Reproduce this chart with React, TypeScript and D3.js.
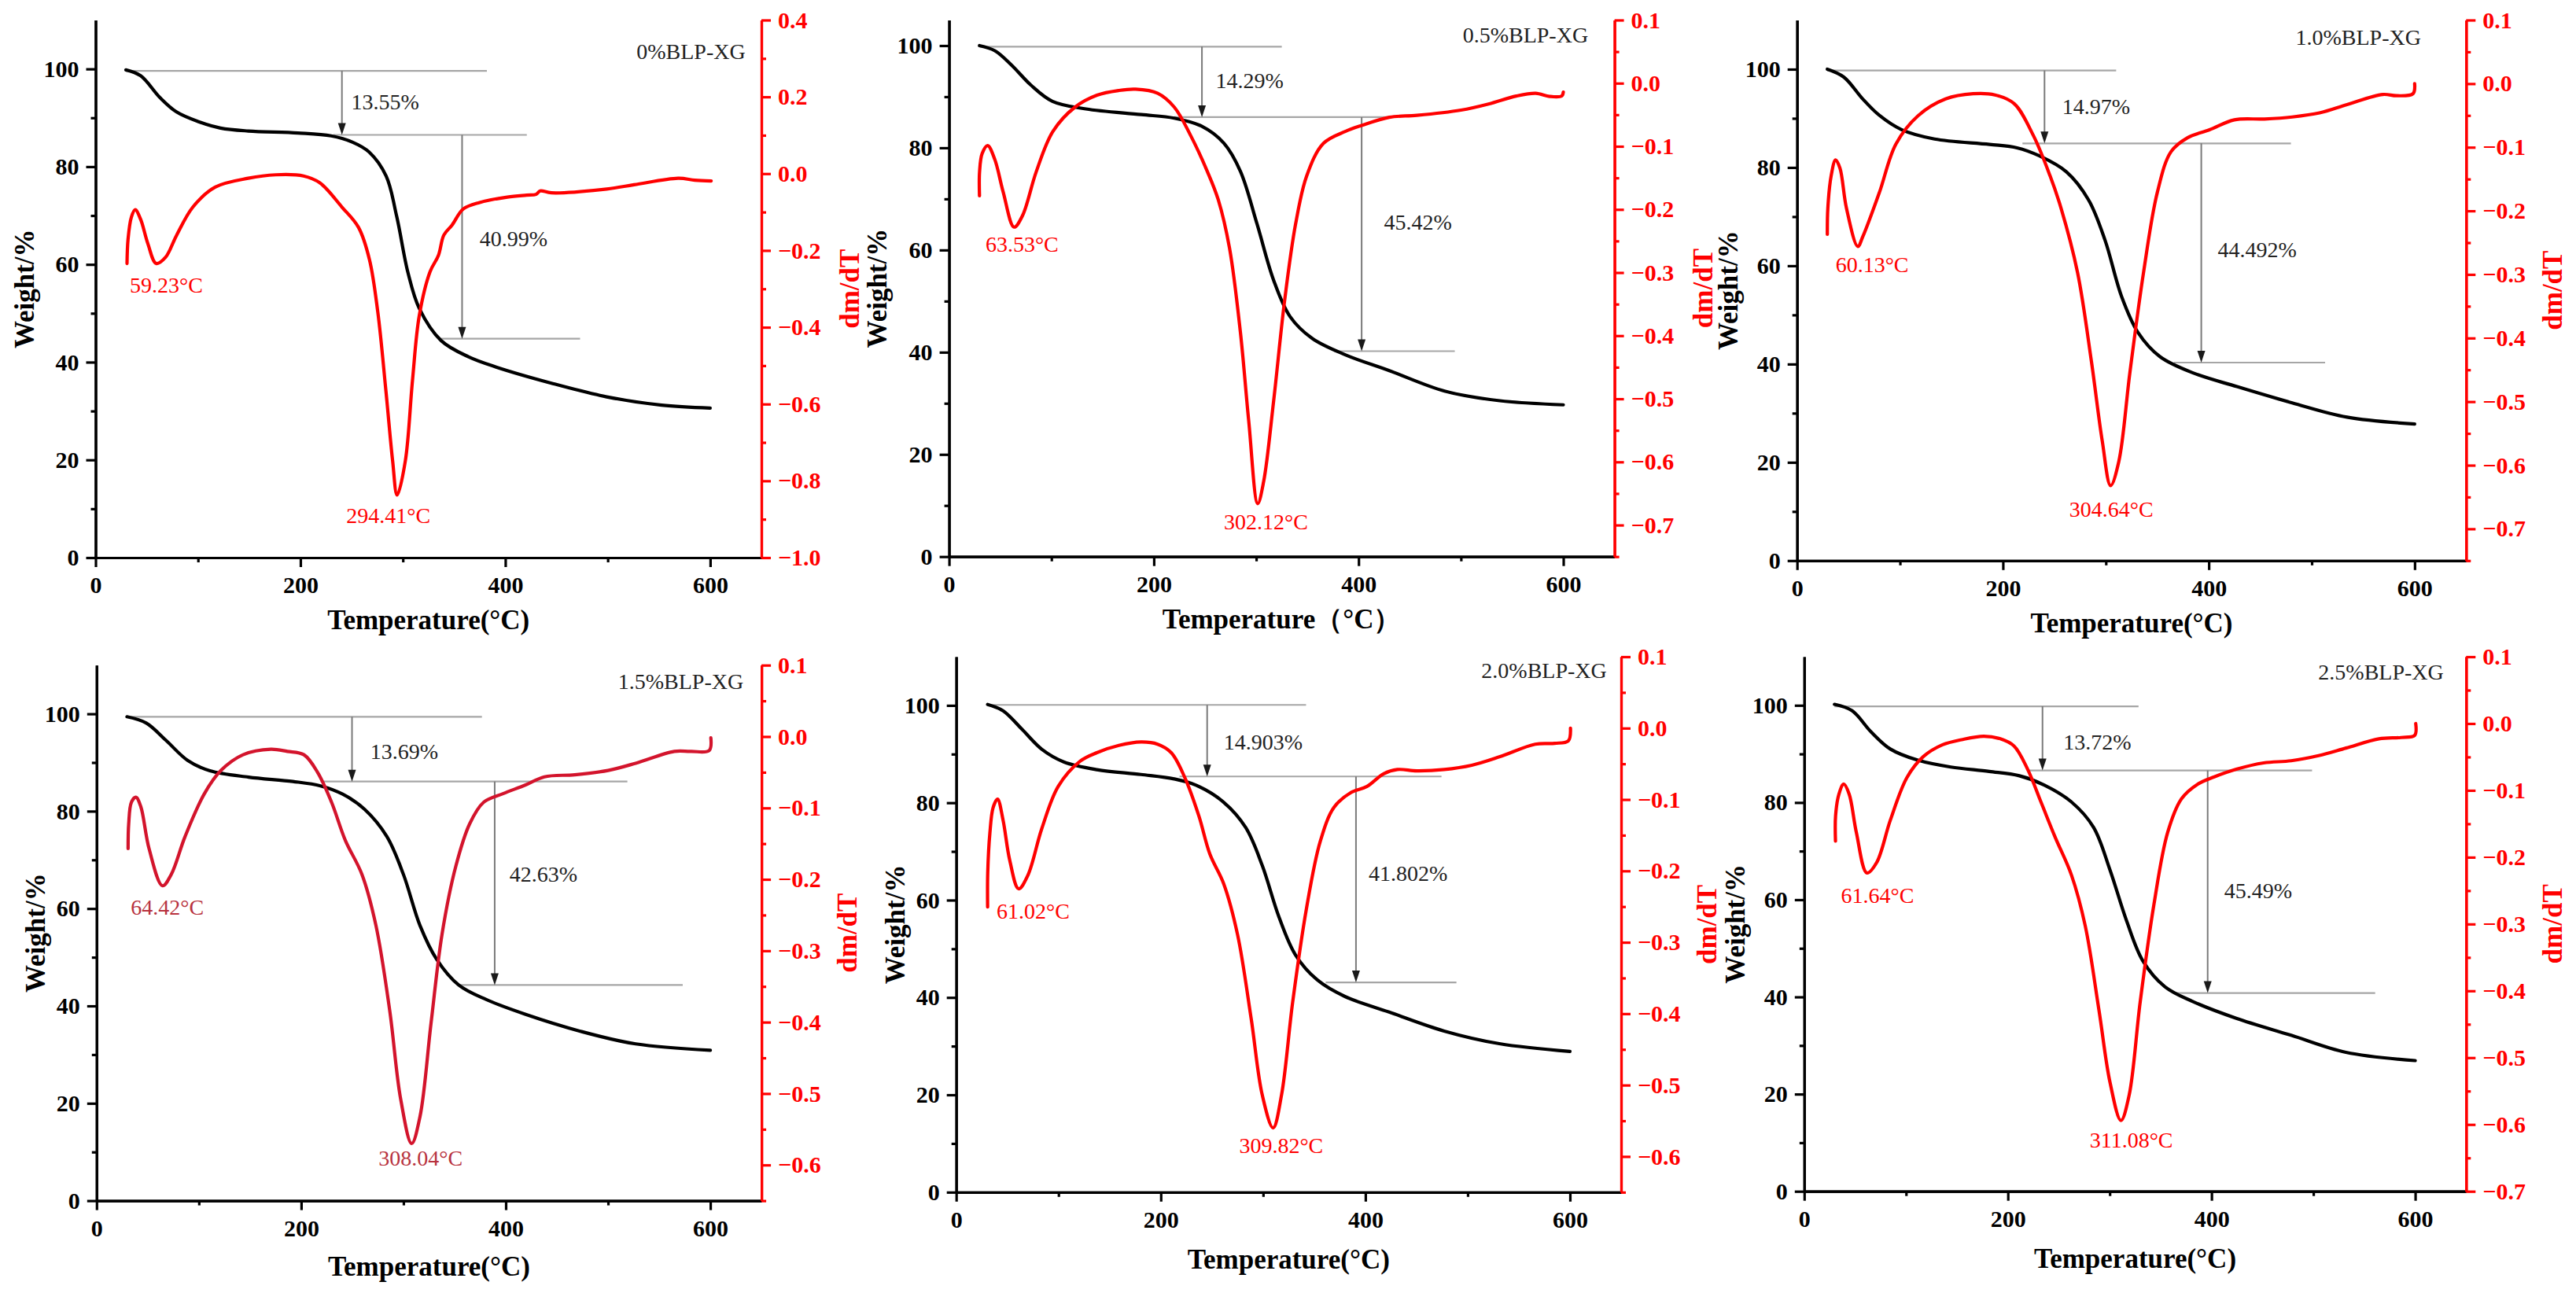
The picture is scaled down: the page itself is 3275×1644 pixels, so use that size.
import React, { useEffect, useRef } from 'react';
import * as d3 from 'd3';

type Pt = [number, number];

// ---------- DATA (temperature °C, value) ----------
const tga0: Pt[] = [[29.6,99.8],[44,98.6],[63,94.1],[79,91.2],[100.6,89.2],[122,87.9],[149,87.3],[197.5,86.9],[230,86.3],[251,85.0],[267,83.0],[283.6,78.1],[294,69.8],[305,58.3],[316,51],[337.4,44.4],[364,41.1],[391,39],[445,35.7],[499,32.9],[552.6,31.2],[600,30.6]];
const dtg0: Pt[] = [[30.7,-0.234],[31.7,-0.171],[35,-0.113],[38.7,-0.094],[44,-0.119],[51,-0.182],[59.2,-0.234],[68.3,-0.218],[79,-0.161],[95,-0.087],[116.8,-0.035],[149,-0.012],[176,-0.003],[203,-0.006],[219,-0.024],[240.5,-0.087],[256.7,-0.140],[267.4,-0.224],[275.5,-0.36],[283.6,-0.57],[290,-0.748],[294.4,-0.837],[302.4,-0.748],[309.4,-0.538],[316,-0.37],[326.6,-0.255],[334.7,-0.213],[340,-0.16],[348,-0.134],[359,-0.092],[375,-0.075],[402,-0.061],[420.8,-0.056],[430,-0.054],[434,-0.045],[445,-0.05],[499,-0.04],[525.7,-0.029],[568.8,-0.012],[585,-0.017],[601,-0.019]];

const tga1: Pt[] = [[29.7,100],[44.7,99],[61,96.2],[79.8,92.3],[101,89.1],[133.7,87.6],[187.6,86.5],[220,85.8],[247,84.2],[268.5,80.9],[284.6,75.4],[300.8,65.1],[317,54.1],[333,47],[354.7,42.7],[387,39.5],[430,36.4],[484,32.4],[538,30.5],[600,29.7]];
const dtg1: Pt[] = [[29.7,-0.1785],[29.8,-0.140],[32.3,-0.1116],[37.7,-0.0988],[44.7,-0.121],[52.8,-0.172],[63.5,-0.228],[71.7,-0.210],[85.2,-0.140],[101.4,-0.0765],[123,-0.038],[144.5,-0.019],[166,-0.0115],[182.2,-0.0096],[203.8,-0.016],[220,-0.038],[236,-0.083],[252.3,-0.140],[263,-0.185],[273.9,-0.261],[284.6,-0.395],[292.7,-0.535],[301.5,-0.666],[307.3,-0.631],[317,-0.504],[327.8,-0.344],[338.5,-0.223],[349.3,-0.147],[365.5,-0.0956],[387,-0.0765],[403,-0.067],[430,-0.054],[457,-0.051],[500,-0.0427],[527,-0.033],[554,-0.0204],[573,-0.016],[586.5,-0.021],[598.4,-0.0204],[600,-0.014]];

const tga2: Pt[] = [[29.4,100],[45.4,98.4],[64,93.9],[80,90.6],[101.5,87.7],[133.6,85.8],[187,84.7],[213.7,84],[235,82.4],[261.8,79.1],[283.2,73.4],[299.2,65.2],[315.2,53.8],[331.3,46.4],[352.6,41.5],[384.7,38.2],[427.4,35.4],[481,32.1],[534.3,29.2],[600,27.8]];
const dtg2: Pt[] = [[29.4,-0.237],[29.9,-0.196],[33.1,-0.145],[37.4,-0.12],[41.7,-0.133],[48,-0.196],[59,-0.256],[64,-0.24],[80,-0.171],[96,-0.095],[117.5,-0.0505],[144.3,-0.024],[171,-0.0158],[192.3,-0.0177],[211,-0.0316],[229.7,-0.082],[245.8,-0.145],[256.5,-0.196],[272.5,-0.297],[285.9,-0.436],[296.5,-0.562],[304.6,-0.632],[312.6,-0.594],[323.3,-0.455],[336.6,-0.297],[350,-0.171],[363.3,-0.107],[379.4,-0.085],[400.7,-0.0726],[424.8,-0.0569],[454,-0.0556],[481,-0.0524],[507.6,-0.046],[534.3,-0.0329],[569,-0.017],[582.4,-0.019],[598.4,-0.0158],[600,0.0]];

const tga3: Pt[] = [[29.7,99.4],[48.6,98.1],[67.6,94.6],[89.2,90.4],[110.8,88.3],[148.6,87],[191.9,86.1],[218.9,85.2],[240.5,83.5],[262,80.4],[283.8,74.8],[300,67],[316.2,56.5],[332.4,49.6],[354,44.3],[381,41.3],[418.9,38.3],[472.9,34.8],[527,32.2],[600,30.9]];
const dtg3: Pt[] = [[30.8,-0.157],[31.4,-0.122],[34,-0.092],[38.4,-0.085],[43.2,-0.098],[51.3,-0.157],[64.4,-0.209],[73,-0.193],[86.5,-0.140],[105.4,-0.080],[121.6,-0.0475],[143.2,-0.0255],[170.3,-0.0178],[186.5,-0.0208],[202.7,-0.0255],[216.2,-0.0505],[229.7,-0.092],[243.2,-0.1455],[259.4,-0.193],[273,-0.264],[286.5,-0.383],[297.3,-0.508],[308,-0.57],[316.2,-0.532],[327,-0.401],[337.8,-0.276],[351.3,-0.181],[364.8,-0.122],[378.4,-0.092],[397.3,-0.080],[418.9,-0.068],[437.8,-0.0564],[467.5,-0.0535],[500,-0.0475],[527,-0.0374],[564.8,-0.0208],[581,-0.0208],[598.9,-0.0196],[600.5,-0.0018]];

const tga4: Pt[] = [[30.7,100.2],[45.8,98.9],[64.7,95],[83.6,91],[105.1,88.4],[137.5,86.8],[180.6,85.8],[213,84.9],[234.5,83.6],[261.5,80.1],[283,74.9],[299.2,67.1],[315.4,56.6],[331.5,48.8],[353,43.6],[380,40.2],[423.2,37],[477,33.1],[531,30.5],[600,28.9]];
const dtg4: Pt[] = [[30.7,-0.2505],[30.8,-0.203],[32.9,-0.147],[36.1,-0.111],[40.4,-0.0995],[45.8,-0.129],[52.3,-0.185],[61,-0.225],[70.1,-0.206],[83.6,-0.141],[99.7,-0.0817],[121.3,-0.0462],[137.5,-0.0344],[159,-0.0243],[180.6,-0.0195],[196.8,-0.0225],[210.2,-0.0344],[223.7,-0.070],[237.2,-0.123],[248,-0.1765],[261.5,-0.218],[275,-0.289],[288.4,-0.4075],[299.2,-0.514],[309.8,-0.560],[318,-0.514],[328.9,-0.384],[342.3,-0.2535],[355.8,-0.159],[369.3,-0.111],[385.5,-0.0906],[401.6,-0.0817],[417.8,-0.064],[431.3,-0.058],[450.2,-0.0598],[477.1,-0.058],[504,-0.052],[531,-0.0403],[566,-0.0225],[585,-0.0213],[598.4,-0.0178],[600.5,0]];

const tga5: Pt[] = [[29.7,100.2],[46.9,98.9],[65.8,94.5],[84.6,91],[111.6,88.7],[143.9,87.3],[181.7,86.4],[211.3,85.5],[235.6,83.6],[262.5,80.1],[284.1,74.9],[300.3,66.1],[316.5,55.7],[332.6,47.4],[354.2,42.1],[381.1,39.1],[424.3,35.6],[478.2,32.1],[532,28.6],[600,26.9]];
const dtg5: Pt[] = [[30.7,-0.176],[30.8,-0.138],[34,-0.106],[38.8,-0.0906],[44.2,-0.106],[51.2,-0.163],[61.6,-0.2236],[71.2,-0.2078],[84.6,-0.1444],[100.8,-0.081],[117,-0.0494],[135.9,-0.0317],[154.7,-0.0241],[176.3,-0.019],[192.5,-0.0228],[206,-0.0336],[219.4,-0.0684],[232.9,-0.119],[246.4,-0.170],[262.5,-0.227],[276,-0.303],[289.5,-0.4295],[300.3,-0.537],[311,-0.594],[319.1,-0.556],[329.9,-0.417],[343.4,-0.271],[356.9,-0.163],[370.4,-0.1128],[386.5,-0.0906],[402.7,-0.0798],[424.3,-0.0684],[451.2,-0.0589],[478.2,-0.0557],[505.1,-0.0481],[532,-0.0367],[564.4,-0.0228],[586,-0.0209],[599.5,-0.0177],[600.5,0]];

const tgaSeries = [tga0, tga1, tga2, tga3, tga4, tga5];
const dtgSeries = [dtg0, dtg1, dtg2, dtg3, dtg4, dtg5];

const sampleNames = ['0%BLP-XG', '0.5%BLP-XG', '1.0%BLP-XG', '1.5%BLP-XG', '2.0%BLP-XG', '2.5%BLP-XG'];
const massLoss1 = ['13.55%', '14.29%', '14.97%', '13.69%', '14.903%', '13.72%'];
const massLoss2 = ['40.99%', '45.42%', '44.492%', '42.63%', '41.802%', '45.49%'];
const peakLabel1 = ['59.23°C', '63.53°C', '60.13°C', '64.42°C', '61.02°C', '61.64°C'];
const peakLabel2 = ['294.41°C', '302.12°C', '304.64°C', '308.04°C', '309.82°C', '311.08°C'];
// weight levels of the three step lines (%)
const stepLevels: number[][] = [[99.6, 86.5, 44.8], [99.8, 86.0, 40.2], [99.75, 84.9, 40.3], [99.4, 86.1, 44.3], [100.1, 85.4, 43.1], [99.8, 86.6, 40.8]];

const xTicks = [0, 200, 400, 600];
const xMinorTicks = [100, 300, 500];
const weightTicks = [0, 20, 40, 60, 80, 100];
const weightMinorTicks = [10, 30, 50, 70, 90];
const xTitles = ['Temperature(°C)', 'Temperature（°C）', 'Temperature(°C)', 'Temperature(°C)', 'Temperature(°C)', 'Temperature(°C)'];
const weightMax = [110, 105, 110, 110, 110, 110];
const dtgDomains: [number, number][] = [[-1.0, 0.4], [-0.75, 0.1], [-0.75, 0.1], [-0.65, 0.1], [-0.65, 0.1], [-0.7, 0.1]];
const dtgMajorTicks: number[][] = [
  [-1.0, -0.8, -0.6, -0.4, -0.2, 0.0, 0.2, 0.4],
  [-0.7, -0.6, -0.5, -0.4, -0.3, -0.2, -0.1, 0.0, 0.1],
  [-0.7, -0.6, -0.5, -0.4, -0.3, -0.2, -0.1, 0.0, 0.1],
  [-0.6, -0.5, -0.4, -0.3, -0.2, -0.1, 0.0, 0.1],
  [-0.6, -0.5, -0.4, -0.3, -0.2, -0.1, 0.0, 0.1],
  [-0.7, -0.6, -0.5, -0.4, -0.3, -0.2, -0.1, 0.0, 0.1],
];
const dtgMinorTicks: number[][] = [
  [-0.9, -0.7, -0.5, -0.3, -0.1, 0.1, 0.3],
  [-0.75, -0.65, -0.55, -0.45, -0.35, -0.25, -0.15, -0.05, 0.05],
  [-0.75, -0.65, -0.55, -0.45, -0.35, -0.25, -0.15, -0.05, 0.05],
  [-0.65, -0.55, -0.45, -0.35, -0.25, -0.15, -0.05, 0.05],
  [-0.65, -0.55, -0.45, -0.35, -0.25, -0.15, -0.05, 0.05],
  [-0.65, -0.55, -0.45, -0.35, -0.25, -0.15, -0.05, 0.05],
];

// ---------- LAYOUT (pixels / annotation anchors in data coords) ----------
interface Layout {
  x0: number; x1: number; top: number; bottom: number;
  wTitleDx: number; dmTitleDx: number; xTitleDy: number;
  line1: Pt; arrow1: number; line2: Pt; arrow2: number; line3: Pt;
  loss1At: Pt; loss2At: Pt; peak1At: Pt; peak2At: Pt; nameAt: Pt;
  dtgColor: string; peakColor: string;
}
const layouts: Layout[] = [
  { x0: 121.5, x1: 968, top: 25.5, bottom: 709, wTitleDx: 90, dmTitleDx: 112, xTitleDy: 91,
    line1: [29.6, 382], arrow1: 240.5, line2: [232, 421], arrow2: 357.8, line3: [337, 473],
    loss1At: [249.5, 93.2], loss2At: [375, 65.2], peak1At: [33.4, 55.7], peak2At: [244.8, 8.6], nameAt: [634.4, 103.6],
    dtgColor: '#ff0000', peakColor: '#ff0000' },
  { x0: 1206.6, x1: 2052.6, top: 25.5, bottom: 707.7, wTitleDx: 91, dmTitleDx: 113, xTitleDy: 91,
    line1: [29.7, 325], arrow1: 247, line2: [220, 433], arrow2: 403, line3: [376, 494],
    loss1At: [260.4, 93.2], loss2At: [424.8, 65.5], peak1At: [35.6, 61.2], peak2At: [268.5, 6.85], nameAt: [624.3, 102.1],
    dtgColor: '#ff0000', peakColor: '#ff0000' },
  { x0: 2284.7, x1: 3135.3, top: 25.5, bottom: 712.8, wTitleDx: 87, dmTitleDx: 110, xTitleDy: 91,
    line1: [29.4, 310], arrow1: 240.4, line2: [219, 479.8], arrow2: 392.7, line3: [366, 513],
    loss1At: [257.5, 92.4], loss2At: [408.7, 63.2], peak1At: [37.4, 60.3], peak2At: [264.5, 10.4], nameAt: [606.2, 106.4],
    dtgColor: '#ff0000', peakColor: '#ff0000' },
  { x0: 122.8, x1: 968.1, top: 845.7, bottom: 1526.6, wTitleDx: 77, dmTitleDx: 109, xTitleDy: 95,
    line1: [29.7, 376.7], arrow1: 249.7, line2: [219, 518.9], arrow2: 389.2, line3: [354, 573],
    loss1At: [267.5, 92.3], loss2At: [403.7, 67], peak1At: [33.5, 60.3], peak2At: [275.7, 8.7], nameAt: [632.4, 106.7],
    dtgColor: '#d3142c', peakColor: '#b8323e' },
  { x0: 1215.7, x1: 2061, top: 835, bottom: 1515.8, wTitleDx: 77, dmTitleDx: 109, xTitleDy: 97,
    line1: [30.7, 342], arrow1: 245.3, line2: [218.3, 474.4], arrow2: 390.8, line3: [361.2, 489],
    loss1At: [261.5, 92.5], loss2At: [403.2, 65.5], peak1At: [39.4, 57.7], peak2At: [276.6, 9.6], nameAt: [636, 107.1],
    dtgColor: '#ff0000', peakColor: '#ff0000' },
  { x0: 2293.8, x1: 3135.3, top: 835, bottom: 1514.7, wTitleDx: 87, dmTitleDx: 110, xTitleDy: 97,
    line1: [29.7, 328.3], arrow1: 234, line2: [219.4, 498.7], arrow2: 396.2, line3: [365, 560.7],
    loss1At: [254.5, 92.5], loss2At: [412.4, 61.8], peak1At: [36.1, 60.9], peak2At: [280.3, 10.5], nameAt: [628, 106.9],
    dtgColor: '#ff0000', peakColor: '#ff0000' },
];

const WIDTH = 3275;
const HEIGHT = 1644;
const FONT = "'Liberation Serif', 'Times New Roman', 'DejaVu Serif', serif";

function styleAxis(sel: d3.Selection<SVGGElement, unknown, null, undefined>, color: string) {
  sel.attr('color', color)
    .attr('font-family', FONT)
    .attr('font-size', 30)
    .attr('font-weight', 'bold');
  sel.select('.domain').attr('stroke-width', 3.2);
  sel.selectAll('.tick line').attr('stroke-width', 3.2);
}

function drawPanel(svg: d3.Selection<SVGSVGElement, unknown, null, undefined>, i: number) {
  const L = layouts[i];
  const x = d3.scaleLinear().domain([0, 650]).range([L.x0, L.x1]);
  const yW = d3.scaleLinear().domain([0, weightMax[i]]).range([L.bottom, L.top]);
  const yD = d3.scaleLinear().domain(dtgDomains[i]).range([L.bottom, L.top]);
  const g = svg.append('g');
  const levels = stepLevels[i];

  // step lines
  const gray = '#a6a6a6';
  const hline = (ext: Pt, w: number) => {
    g.append('line').attr('x1', x(ext[0])).attr('x2', x(ext[1]))
      .attr('y1', yW(w)).attr('y2', yW(w))
      .attr('stroke', gray).attr('stroke-width', 2.2);
  };
  const arrow = (t: number, wFrom: number, wTo: number) => {
    const ax = x(t);
    const ya = yW(wFrom);
    const yb = yW(wTo);
    g.append('line').attr('x1', ax).attr('x2', ax).attr('y1', ya).attr('y2', yb - 12)
      .attr('stroke', '#7a7a7a').attr('stroke-width', 2);
    g.append('path')
      .attr('d', `M${ax},${yb} L${ax - 5},${yb - 15} L${ax + 5},${yb - 15} Z`)
      .attr('fill', '#1a1a1a');
  };
  hline(L.line1, levels[0]);
  hline(L.line2, levels[1]);
  hline(L.line3, levels[2]);
  arrow(L.arrow1, levels[0], levels[1]);
  arrow(L.arrow2, levels[1], levels[2]);

  // curves
  const curve = d3.curveCatmullRom.alpha(0.5);
  const lineW = d3.line<Pt>().x(d => x(d[0])).y(d => yW(d[1])).curve(curve);
  const lineD = d3.line<Pt>().x(d => x(d[0])).y(d => yD(d[1])).curve(curve);
  g.append('path').attr('d', lineW(tgaSeries[i]) || '')
    .attr('fill', 'none').attr('stroke', '#000').attr('stroke-width', 4.2)
    .attr('stroke-linejoin', 'round').attr('stroke-linecap', 'round');
  g.append('path').attr('d', lineD(dtgSeries[i]) || '')
    .attr('fill', 'none').attr('stroke', L.dtgColor).attr('stroke-width', 4.2)
    .attr('stroke-linejoin', 'round').attr('stroke-linecap', 'round');

  // axes
  const fmtW = d3.format('d');
  const fmtD = d3.format('.1f');
  const gL = g.append('g').attr('transform', `translate(${L.x0},0)`)
    .call(d3.axisLeft(yW).tickValues(weightTicks).tickSize(12).tickPadding(9).tickSizeOuter(0).tickFormat(d => fmtW(d as number)));
  styleAxis(gL, '#000');
  const gLm = g.append('g').attr('transform', `translate(${L.x0},0)`)
    .call(d3.axisLeft(yW).tickValues(weightMinorTicks).tickSize(6).tickSizeOuter(0).tickFormat(() => ''));
  styleAxis(gLm, '#000');

  const gB = g.append('g').attr('transform', `translate(0,${L.bottom})`)
    .call(d3.axisBottom(x).tickValues(xTicks).tickSize(12).tickPadding(12).tickSizeOuter(0).tickFormat(d => fmtW(d as number)));
  styleAxis(gB, '#000');
  const gBm = g.append('g').attr('transform', `translate(0,${L.bottom})`)
    .call(d3.axisBottom(x).tickValues(xMinorTicks).tickSize(6).tickSizeOuter(0).tickFormat(() => ''));
  styleAxis(gBm, '#000');

  const gR = g.append('g').attr('transform', `translate(${L.x1},0)`)
    .call(d3.axisRight(yD).tickValues(dtgMajorTicks[i]).tickSize(12).tickPadding(9).tickSizeOuter(0).tickFormat(d => fmtD(d as number)));
  styleAxis(gR, '#ff0000');
  const gRm = g.append('g').attr('transform', `translate(${L.x1},0)`)
    .call(d3.axisRight(yD).tickValues(dtgMinorTicks[i]).tickSize(6).tickSizeOuter(0).tickFormat(() => ''));
  styleAxis(gRm, '#ff0000');

  // axis titles
  const midY = (L.top + L.bottom) / 2;
  g.append('text').attr('x', (L.x0 + L.x1) / 2).attr('y', L.bottom + L.xTitleDy)
    .attr('text-anchor', 'middle').attr('font-family', FONT).attr('font-size', 35).attr('font-weight', 'bold')
    .attr('fill', '#000').text(xTitles[i]);
  g.append('text').attr('transform', `translate(${L.x0 - L.wTitleDx},${midY}) rotate(-90)`)
    .attr('text-anchor', 'middle').attr('dominant-baseline', 'central')
    .attr('font-family', FONT).attr('font-size', 35).attr('font-weight', 'bold')
    .attr('fill', '#000').text('Weight/%');
  g.append('text').attr('transform', `translate(${L.x1 + L.dmTitleDx},${midY}) rotate(-90)`)
    .attr('text-anchor', 'middle').attr('dominant-baseline', 'central')
    .attr('font-family', FONT).attr('font-size', 35).attr('font-weight', 'bold')
    .attr('fill', '#ff0000').text('dm/dT');

  // annotations
  const label = (at: Pt, txt: string, color: string, anchor = 'start') => {
    g.append('text').attr('x', x(at[0])).attr('y', yW(at[1]))
      .attr('text-anchor', anchor).attr('dominant-baseline', 'central')
      .attr('font-family', FONT).attr('font-size', 28)
      .attr('fill', color).text(txt);
  };
  label(L.loss1At, massLoss1[i], '#222');
  label(L.loss2At, massLoss2[i], '#222');
  label(L.peak1At, peakLabel1[i], L.peakColor);
  label(L.peak2At, peakLabel2[i], L.peakColor);
  label(L.nameAt, sampleNames[i], '#222', 'end');
}

export default function App() {
  const ref = useRef<SVGSVGElement>(null);
  useEffect(() => {
    if (!ref.current) return;
    const svg = d3.select(ref.current);
    svg.selectAll('*').remove();
    svg.append('rect').attr('width', WIDTH).attr('height', HEIGHT).attr('fill', '#ffffff');
    for (let i = 0; i < layouts.length; i++) drawPanel(svg, i);
  }, []);
  return (
    <svg ref={ref} width={WIDTH} height={HEIGHT}
      style={{ position: 'absolute', left: 0, top: 0, display: 'block', background: '#fff' }} />
  );
}
